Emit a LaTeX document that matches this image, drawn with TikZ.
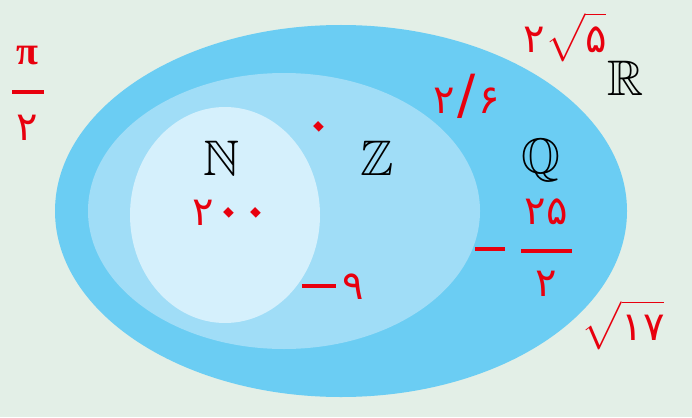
\documentclass[tikz,border=0pt]{standalone}
\usepackage{amssymb}
\usepackage{fontspec}
\newfontfamily\pfont[Script=Arabic]{DejaVu Sans}
\newfontfamily\gfont{Liberation Serif}
\newcommand\pzero{\makebox[27pt]{\raisebox{-4pt}[16pt][0pt]{\rotatebox[origin=c]{45}{\fontsize{66}{66}\selectfont ۰}}}}
\definecolor{bgcol}{HTML}{E3EFE7}
\definecolor{realcol}{HTML}{6BCDF3}
\definecolor{ratcol}{HTML}{A0DDF7}
\definecolor{natcol}{HTML}{D5F0FC}
\definecolor{numred}{HTML}{E8000E}
\begin{document}
\begin{tikzpicture}[x=1pt, y=-1pt,
  set/.style={inner sep=0pt, font=\fontsize{50}{56}\selectfont},
  num/.style={text=numred, inner sep=0pt, font=\pfont\fontsize{40}{44}\selectfont},
  bar/.style={numred, line width=4pt}]
\fill[bgcol] (0,0) rectangle (692,417);
\fill[realcol] (341,211) ellipse (286 and 186);
\fill[ratcol] (284,211) ellipse (196 and 138);
\fill[natcol] (225,215) ellipse (95 and 108);
\node[set] (N) at (222,158) {$\mathbb{N}$};
\node[set] (Z) at (377,158) {$\mathbb{Z}$};
\node[set] (Q) at (541,160) {$\mathbb{Q}$};
\node[set] (R) at (626,78) {$\mathbb{R}$};
\node[num] (zero) at (324,131) {\pzero};
\node[num, anchor=base west] (twohundred) at (192,225) {۲\kern7pt\pzero\pzero};
\node[num] (minusnine) at (333,287) {\rule[0.3em]{0.85em}{4pt}\,۹};
\node[num] (twosix) at (467,96) {۲\kern2pt{\fontsize{54}{54}\selectfont/}\kern3pt۶};
\node[num] (tworootfive) at (565,37) {$\hbox{\pfont ۲}\sqrt{\hbox{\pfont ۵}}$};
\node[num] (rootseventeen) at (623,325) {$\sqrt{\hbox{\pfont ۱۷}}$};
\node[num] (pinum) at (27,56) {\gfont\bfseries π};
\node[num] (piden) at (27,128) {۲};
\draw[bar] (12,92) -- (44,92);
\node[num] (fracnum) at (546,212) {۲۵};
\node[num] (fracden) at (546,284) {۲};
\draw[bar] (521,251) -- (572,251);
\draw[bar] (475,249) -- (505,249);
\end{tikzpicture}
\end{document}
